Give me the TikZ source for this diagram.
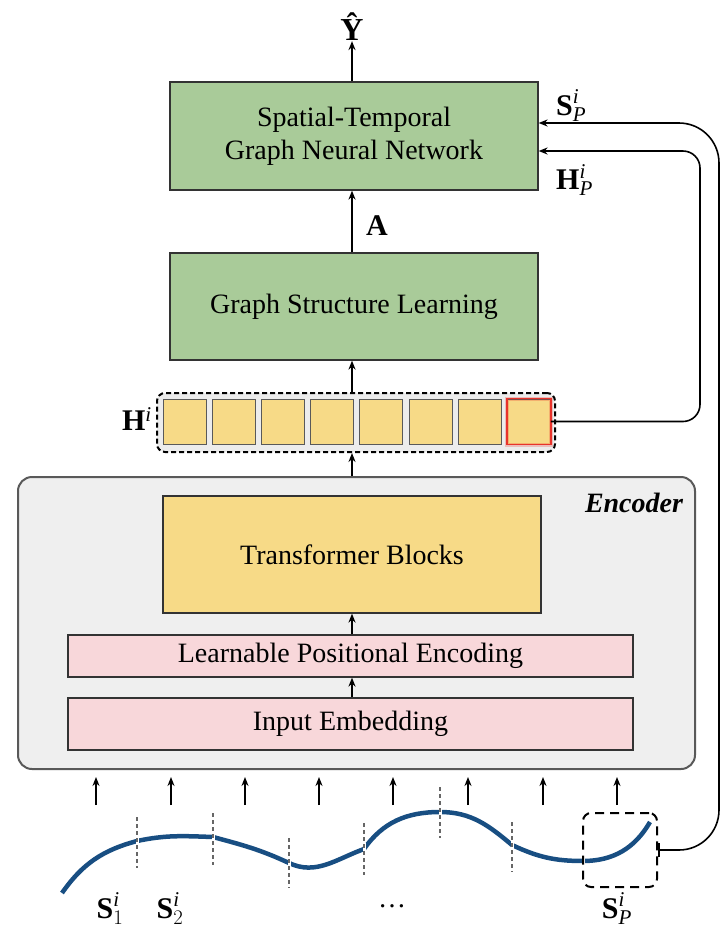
\documentclass[tikz,border=0pt]{standalone}
\usepackage{amsmath}
\usepackage{fontspec}
\setmainfont{Liberation Serif}
\usetikzlibrary{arrows.meta,calc}

\definecolor{stgreen}{RGB}{169,203,153}
\definecolor{tyellow}{RGB}{247,218,135}
\definecolor{epink}{RGB}{248,215,218}
\definecolor{encgray}{RGB}{239,239,239}
\definecolor{hgray}{RGB}{236,236,236}
\definecolor{curveblue}{RGB}{24,78,130}
\definecolor{hotred}{RGB}{232,51,43}

% bold symbol with italic superscript and a given subscript
\newcommand{\vecsym}[3]{$\textbf{#1}^{\textit{#2}}_{#3}$}

\begin{document}
\begin{tikzpicture}[x=1pt,y=-1pt,
  blk/.style={draw=black!80, line width=1.2pt, align=center, inner sep=0pt,
    font=\fontsize{28}{33}\selectfont},
  gbox/.style={blk, fill=stgreen},
  ybox/.style={blk, fill=tyellow},
  pbox/.style={blk, fill=epink},
  cell/.style={draw=black!65, line width=1pt, fill=tyellow,
    minimum width=43pt, minimum height=45pt, inner sep=0pt},
  arr/.style={-{Stealth[length=9pt,width=7pt]}, line width=1.6pt},
  lab/.style={font=\fontsize{30}{30}\selectfont, inner sep=0pt},
  divider/.style={draw=black!60, line width=2pt, dash pattern=on 4pt off 3pt},
]
\useasboundingbox (0,0) rectangle (722,930);

% ---------- upper part: graph modules ----------
\node[gbox, minimum width=368pt, minimum height=108pt] (stgnn) at (354,136)
  {Spatial-Temporal\\Graph Neural Network};
\node[gbox, minimum width=368pt, minimum height=107pt] (gsl) at (354,306.5)
  {Graph Structure Learning};

\node[font=\bfseries\fontsize{32}{32}\selectfont, inner sep=0pt] (yhat) at (352,27) {Ŷ};
\node[lab] (lblA) at (377,226) {\textbf{A}};
\node[lab, anchor=west] (lblS) at (556,106) {\vecsym{S}{i}{\textit{P}}};
\node[lab, anchor=west] (lblH) at (556,180) {\vecsym{H}{i}{\textit{P}}};

% ---------- token representations ----------
\node[draw, line width=2pt, dash pattern=on 5pt off 3pt, fill=hgray, rounded corners=8pt,
  minimum width=398pt, minimum height=59pt] (hrow) at (356,422.5) {};
\foreach \k in {1,...,8}
  \node[cell] (sq\k) at ({184.5+49.2*(\k-1)},421.5) {};
\draw[hotred, opacity=0.25, line width=4pt] (sq8.south west) rectangle (sq8.north east);
\draw[hotred, line width=1.5pt] (sq8.south west) rectangle (sq8.north east);
\node[lab, anchor=east] (lblHi) at (152,419) {\textbf{H}$^{\textit{i}}$};

% ---------- encoder ----------
\node[draw=black!65, line width=2pt, fill=encgray, rounded corners=14pt,
  minimum width=677pt, minimum height=292pt] (enc) at (356.5,623) {};
\node[font=\bfseries\itshape\fontsize{28}{28}\selectfont, inner sep=0pt] (enclab) at (634,503) {Encoder};
\node[ybox, minimum width=378pt, minimum height=117pt] (tb) at (352,554.5) {Transformer Blocks};
\node[pbox, minimum width=565pt, minimum height=42pt] (lpe) at (350.5,656) {Learnable Positional Encoding};
\node[pbox, minimum width=565pt, minimum height=52pt] (ie) at (350.5,724) {Input Embedding};

% ---------- vertical flow ----------
\draw[arr] (ie.north -| tb.south) -- (lpe.south -| tb.south) ;
\draw[arr] (lpe.north -| tb.south) -- (tb.south);
\draw[arr] (tb.north |- enc.north) -- (tb.north |- hrow.south);
\draw[arr] (352,0 |- hrow.north) -- (352,0 |- gsl.south);
\draw[arr] (352,0 |- gsl.north) -- (352,0 |- stgnn.south);
\draw[arr] (352,0 |- stgnn.north) -- (yhat.south);

% ---------- input series ----------
\foreach \x [count=\i] in {96,171,245,319,393,468,543,617} {
  \coordinate (in\i) at (\x,805);
  \coordinate (out\i) at (\x,777);
  \draw[arr] (in\i) -- (out\i);
}

\draw[curveblue, line width=4.5pt]
  (62,893) to[out=55,in=195] (137,841) to[out=12,in=178] (213,837)
  to[out=-15,in=155] (289,863) to[out=-25,in=200] (364,849)
  to[out=55,in=180] (440,812) to[out=0,in=140] (512,845)
  to[out=-25,in=180] (583,861) to[out=0,in=240] (650,822);

% segment boundaries
\foreach \x/\yc in {137/841, 213/837, 289/863, 364/849, 440/812, 512/845, 583/861}
  \draw[white, line width=3pt] (\x,\yc-6) -- (\x,\yc+6);
\foreach \x/\ya/\yb in {137/817/868, 213/813/865, 289/838/888,
                        364/823/875, 440/787/838, 512/822/872}
  \draw[divider] (\x,\ya) -- (\x,\yb);

\node[draw, line width=2pt, dash pattern=on 9pt off 6pt, rounded corners=8pt,
  minimum width=74pt, minimum height=74pt] (spbox) at (620,850) {};

\node[lab] (s1) at (110,909) {\vecsym{S}{i}{1}};
\node[lab] (s2) at (170,909) {\vecsym{S}{i}{2}};
\node[font=\fontsize{28}{28}\selectfont] (dots) at (392,906) {\dots};
\node[lab] (sp) at (617,909) {\vecsym{S}{i}{\textit{P}}};

% ---------- feedback connectors ----------
\draw[arr, rounded corners=17pt] (sq8.east) -- (700,421.5) -- (700,151) -- (stgnn.east |- 0,151);
\draw[{Bar[width=14pt]}-{Stealth[length=9pt,width=7pt]}, line width=1.6pt, rounded corners=40pt]
  (spbox.east) -- (719,850) -- (719,123) -- (stgnn.east |- 0,123);
\end{tikzpicture}
\end{document}
